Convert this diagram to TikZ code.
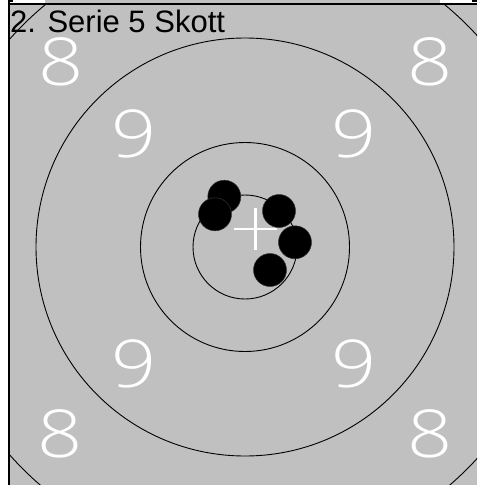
\documentclass[tikz,border=0pt]{standalone}
\usepackage{fontspec}
\setmainfont{Liberation Sans}
\newfontfamily\lightdigits{Open Sans}[UprightFont=* Light]
\definecolor{tgray}{RGB}{192,192,192}
\begin{document}
\begin{tikzpicture}[x=1pt,y=-1pt,
  ring/.style={draw=black,line width=0.9pt},
  shot/.style={fill=black,draw=black!80,line width=0.5pt},
  num/.style={text=white,inner sep=0pt,font=\lightdigits\fontsize{66}{66}\selectfont},
  crossline/.style={draw=white,line width=2.5pt}]
\useasboundingbox (0,0) rectangle (477,485);
\fill[white] (0,0) rectangle (477,485);
% top strip (remains of previous target)
\fill[tgray] (45,0) rectangle (440,4);
\fill[black] (472,0) rectangle (477,2);
\fill[black] (10,0) rectangle (13,1.5);
% target area
\begin{scope}
\clip (9.5,4.5) rectangle (477,485);
\fill[tgray] (9.5,4.5) rectangle (477,485);
\coordinate (c) at (245,247);
\draw[ring] (c) circle[radius=52];
\draw[ring] (c) circle[radius=104.5];
\draw[ring] (c) circle[radius=209];
\draw[ring] (c) circle[radius=314];
\node[num] (n8a) at (61,62) {\scalebox{1.2}[1]{8}};
\node[num] (n8b) at (430,62) {\scalebox{1.2}[1]{8}};
\node[num] (n8c) at (60,434) {\scalebox{1.2}[1]{8}};
\node[num] (n8d) at (430,434) {\scalebox{1.2}[1]{8}};
\node[num] (n9a) at (134,134) {\scalebox{1.2}[1]{9}};
\node[num] (n9b) at (354,134) {\scalebox{1.2}[1]{9}};
\node[num] (n9c) at (134,364) {\scalebox{1.2}[1]{9}};
\node[num] (n9d) at (354,364) {\scalebox{1.2}[1]{9}};
\fill[shot] (224.3,196.7) circle[radius=16.5];
\fill[shot] (215,214.3) circle[radius=16.5];
\fill[shot] (279,211) circle[radius=16.5];
\fill[shot] (295,242.3) circle[radius=16.5];
\fill[shot] (270,270) circle[radius=16.5];
\coordinate (m) at (255.5,229);
\draw[crossline] ([xshift=-21.5pt]m) -- ([xshift=21.5pt]m);
\draw[crossline] ([yshift=-21pt]m) -- ([yshift=21pt]m);
\node[anchor=base west,inner sep=0pt,font=\fontsize{31}{31}\selectfont] (title) at (10,32) {2. Serie 5 Skott};
\end{scope}
% borders
\draw[black,line width=2pt] (8.5,0) -- (8.5,485);
\draw[black,line width=1.5pt] (9.5,4) -- (477,4);
\end{tikzpicture}
\end{document}
